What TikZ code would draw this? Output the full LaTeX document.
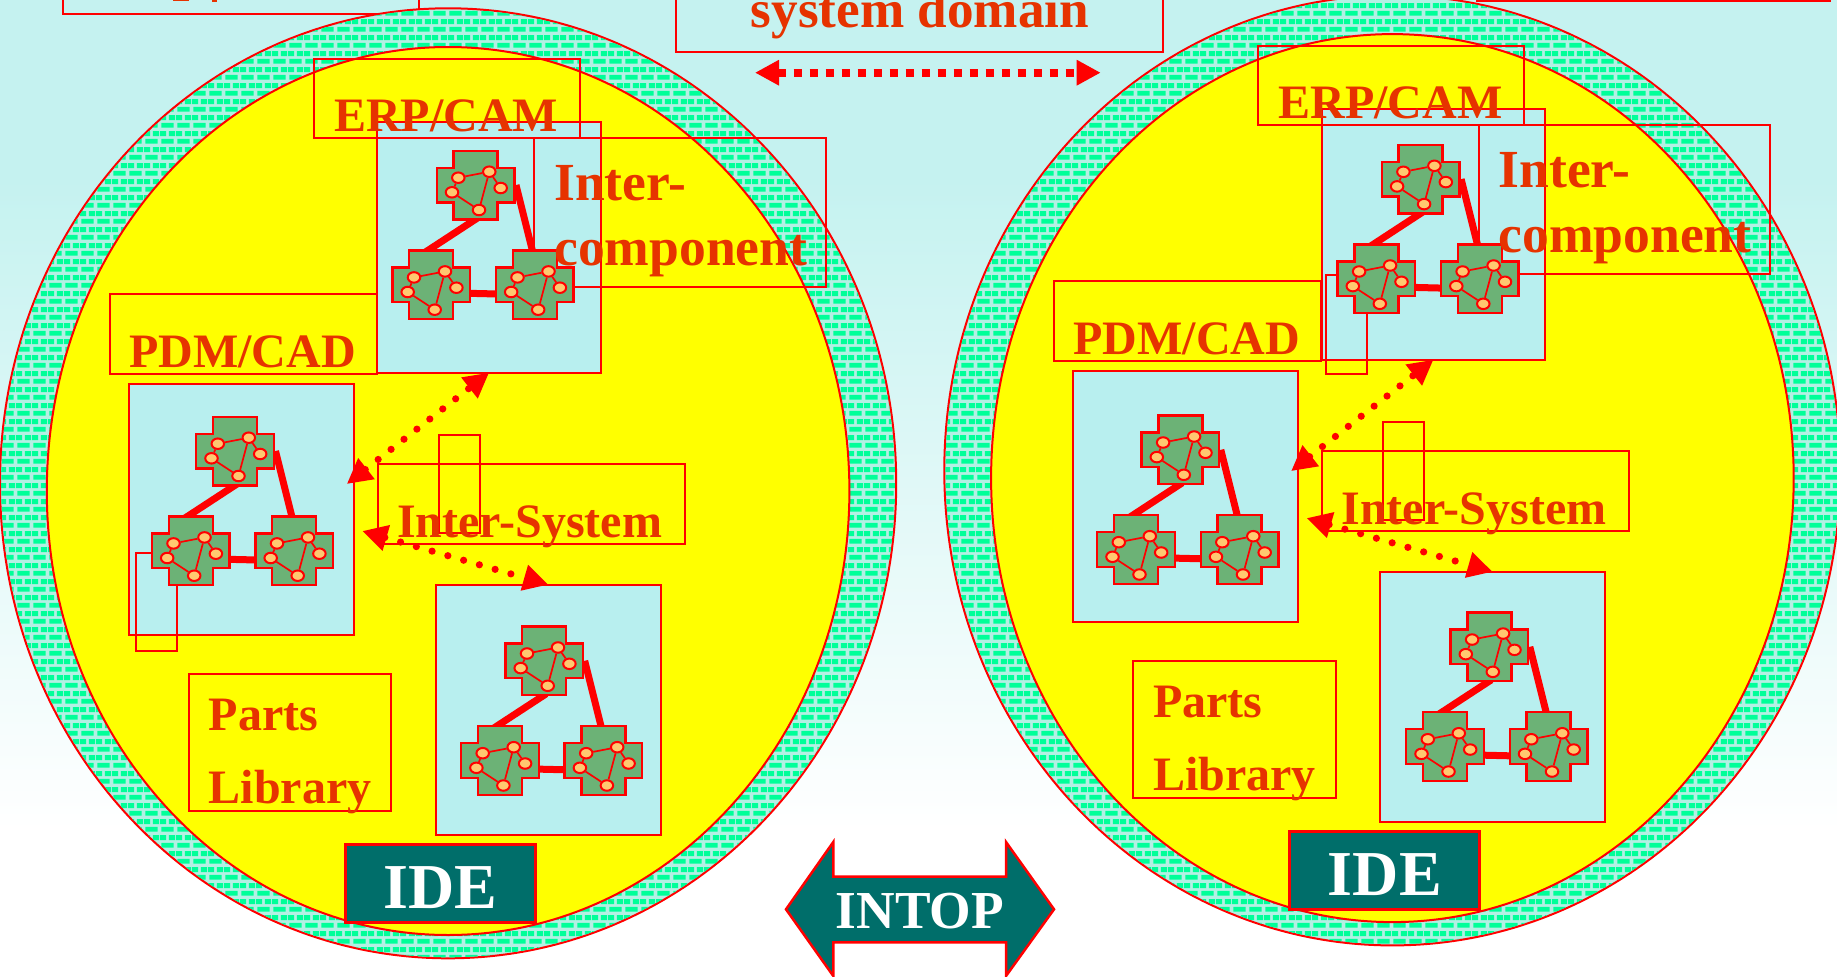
\documentclass[tikz,border=0pt]{standalone}
\usepackage{fontspec}
\setmainfont{Liberation Serif}
\usetikzlibrary{arrows.meta,patterns,shapes.geometric,calc}
\definecolor{bgtop}{HTML}{C5F2F0}
\definecolor{boxc}{HTML}{B8EFEF}
\definecolor{txtc}{HTML}{E63300}
\definecolor{rl}{HTML}{FF0000}
\definecolor{teal1}{HTML}{006E6A}
\definecolor{brickc}{HTML}{00FF99}
\definecolor{mortar}{HTML}{B4F0E4}
\definecolor{crossc}{HTML}{6CB276}
\definecolor{dotc}{HTML}{FFC870}
\definecolor{sunc}{RGB}{255,255,0}
\pgfdeclarepatternformonly{mybrickwall}{\pgfqpoint{0pt}{0pt}}{\pgfqpoint{16pt}{16pt}}{\pgfqpoint{16pt}{16pt}}{%
  \pgfpathrectangle{\pgfqpoint{1.5pt}{1.4pt}}{\pgfqpoint{13pt}{5.2pt}}%
  \pgfpathrectangle{\pgfqpoint{9.5pt}{9.4pt}}{\pgfqpoint{6.5pt}{5.2pt}}%
  \pgfpathrectangle{\pgfqpoint{0pt}{9.4pt}}{\pgfqpoint{6.5pt}{5.2pt}}%
  \pgfusepath{fill}}
\newcommand\tfs[1]{\fontsize{#1}{#1}\selectfont\bfseries}
\tikzset{
  redline/.style={draw=rl,line width=2pt},
  lightbox/.style={redline,fill=boxc},
  framebox/.style={redline},
  tealbox/.style={draw=rl,line width=3pt,fill=teal1},
  lbl/.style={text=txtc,anchor=base west,inner sep=0pt,font=\tfs{48}},
  lblbig/.style={text=txtc,anchor=base west,inner sep=0pt,font=\tfs{53.6}},
  whitelbl/.style={text=white,anchor=base,inner sep=0pt},
  dotarrow/.style={draw=rl,line width=7.2pt,line cap=round,dash pattern=on 0pt off 16.4pt,
     {Triangle[length=25pt,width=25pt,fill=rl]}-{Triangle[length=25pt,width=25pt,fill=rl]}},
  squarearrow/.style={draw=rl,line width=8pt,dash pattern=on 8pt off 8pt,
     {Triangle[length=24pt,width=24pt,fill=rl]}-{Triangle[length=24pt,width=24pt,fill=rl]}},
  linkline/.style={draw=rl,line width=7pt},
  crossshape/.style={draw=rl,line width=2.4pt,fill=crossc},
  dotnode/.style={ellipse,draw=rl,line width=2pt,fill=dotc,inner sep=0pt,minimum width=12.5pt,minimum height=10.5pt},
  inlink/.style={draw=rl,line width=1.7pt},
}
% rectangular node from corners: name, style, x1,y1,x2,y2
\newcommand\RectNode[6]{%
  \node[#2,inner sep=0pt,outer sep=0pt,minimum width={(#5-#3)*1pt},minimum height={(#6-#4)*1pt}]
    (#1) at ({(#3+#5)/2},{(#4+#6)/2}) {};}
\newcommand\Module[3]{%
  \begin{scope}[shift={({#2},{#3})}]
    \draw[crossshape] (-22,-34.3) -- (22,-34.3) -- (22,-17.3) -- (38.8,-17.3) -- (38.8,17.3) -- (22,17.3)
       -- (22,34.3) -- (-22,34.3) -- (-22,17.3) -- (-38.8,17.3) -- (-38.8,-17.3) -- (-22,-17.3) -- cycle;
    \node[dotnode] (#1a) at (-17.2,-7.3) {};
    \node[dotnode] (#1b) at (13.8,-13.3) {};
    \node[dotnode] (#1c) at (25.2,3) {};
    \node[dotnode] (#1d) at (-23.5,7.3) {};
    \node[dotnode] (#1e) at (3.5,25) {};
    \draw[inlink] (#1a) -- (#1b);
    \draw[inlink] (#1b) -- (#1c);
    \draw[inlink] (#1b) -- (#1e);
    \draw[inlink] (#1a) -- (#1d);
    \draw[inlink] (#1d) -- (#1e);
  \end{scope}}
% triad: prefix, x, y of the top module
\newcommand\Triad[3]{%
  \coordinate (#1t) at ({#2},{#3});
  \draw[linkline] ($(#1t)+(2,33)$) -- ($(#1t)+(-50,67)$);
  \draw[linkline] ($(#1t)+(40.5,0)$) -- ($(#1t)+(57.5,68)$);
  \draw[linkline] ($(#1t)+(-7,108.3)$) -- ($(#1t)+(22,109)$);
  \Module{#1A}{#2}{#3}
  \Module{#1B}{#2-44.3}{#3+99.7}
  \Module{#1C}{#2+59.2}{#3+99.7}}
% whole domain: prefix, x1,y1,x2,y2 of the loose small frame, then offsets dx,dy of two triads
\newcommand\Domain[9]{%
  \draw[redline,fill=mortar] (448.1,483.3) ellipse [x radius=448.1,y radius=475];
  \path[pattern=mybrickwall,pattern color=brickc] (448.1,483.3) ellipse [x radius=447,y radius=474];
  \draw[redline,fill=sunc] (448.1,491) ellipse [x radius=401.3,y radius=444];
  \RectNode{#1erp}{lightbox}{377.3}{122}{601}{372.6}
  \RectNode{#1pdm}{lightbox}{129}{384}{354}{635}
  \RectNode{#1low}{lightbox}{436}{584.7}{660.7}{835}
  \RectNode{#1erpf}{framebox}{314}{58.6}{580}{138}
  \RectNode{#1icf}{framebox}{534.3}{138}{826}{287}
  \RectNode{#1pdmf}{framebox}{110}{294}{377}{374}
  \RectNode{#1isf}{framebox}{377.7}{464}{685}{544}
  \RectNode{#1tall}{framebox}{439}{434.5}{480}{533}
  \RectNode{#1small}{framebox}{#2}{#3}{#4}{#5}
  \RectNode{#1pl}{framebox}{188.6}{673.7}{391.3}{810.7}
  \Triad{#1u}{475.5+#6}{185+#7}
  \Triad{#1v}{235+#8}{451+#9}
  \Triad{#1w}{544.2+#6}{660.8-#7*0.15}
  \coordinate (#1p1) at (346.8,484);
  \coordinate (#1p2) at (362.3,531);
  \draw[dotarrow] (#1p1) -- (#1erp.south);
  \draw[dotarrow] (#1p2) -- (#1low.north);
  \RectNode{#1ide}{tealbox}{345.6}{844.7}{535.4}{922}
  \node[whitelbl,font=\tfs{64}] (#1idet) at (440.5,908) {IDE};
  \node[lbl] (#1erpt) at (334,131) {ERP/CAM};
  \node[lbl] (#1pdmt) at (129,367) {PDM/CAD};
  \node[lbl,font=\tfs{48}] (#1ist) at (397,537.5) {Inter-System};
  \node[lblbig] (#1ic1) at (554,200) {Inter-};
  \node[lblbig] (#1ic2) at (554,265) {component};
  \node[lbl] (#1pl1) at (208.5,730) {Parts};
  \node[lbl] (#1pl2) at (208.5,803.7) {Library};
}
\begin{document}
\begin{tikzpicture}[x=1pt,y=-1pt]
\useasboundingbox (0,0) rectangle (1837,977);
\fill[bgtop] (0,0) rectangle (1837,180);
\shade[top color=bgtop,bottom color=white] (0,179) rectangle (1837,830);
\fill[white] (0,829) rectangle (1837,977);
% cut-off frames along the top edge
\RectNode{tlf}{framebox}{62.7}{-30}{418.7}{14.3}
\RectNode{trf}{framebox}{1477}{-30}{1830}{1}
\RectNode{sdf}{framebox}{676}{-30}{1163.4}{52.3}
\fill[txtc] (173,0) rectangle (189,1.2);
\fill[txtc] (212,0) rectangle (217,2);
\node[text=txtc,inner sep=0pt,anchor=base,font=\tfs{53.2}] (sdt) at (920,27.3) {system domain};
\Domain{l}{136}{552.7}{176.7}{650.7}{0}{0}{0}{0}
\begin{scope}[shift={(944.3,-12.9)}]
\Domain{r}{382}{288.2}{423}{386.6}{0.8}{7}{1}{11.7}
\end{scope}
\coordinate (tl) at (755,72.7);
\coordinate (tr) at (1100.7,72.7);
\draw[squarearrow] (tl) -- (tr);
\draw[draw=rl,line width=2.5pt,fill=teal1] (786,909.3) -- (833.3,842) -- (833.3,876.7) -- (1006,876.7) -- (1006,842)
  -- (1054,909.3) -- (1006,976) -- (1006,942.3) -- (833.3,942.3) -- (833.3,976) -- cycle;
\node[whitelbl,font=\tfs{53.4}] (intop) at (920,928.7) {INTOP};
\end{tikzpicture}
\end{document}
